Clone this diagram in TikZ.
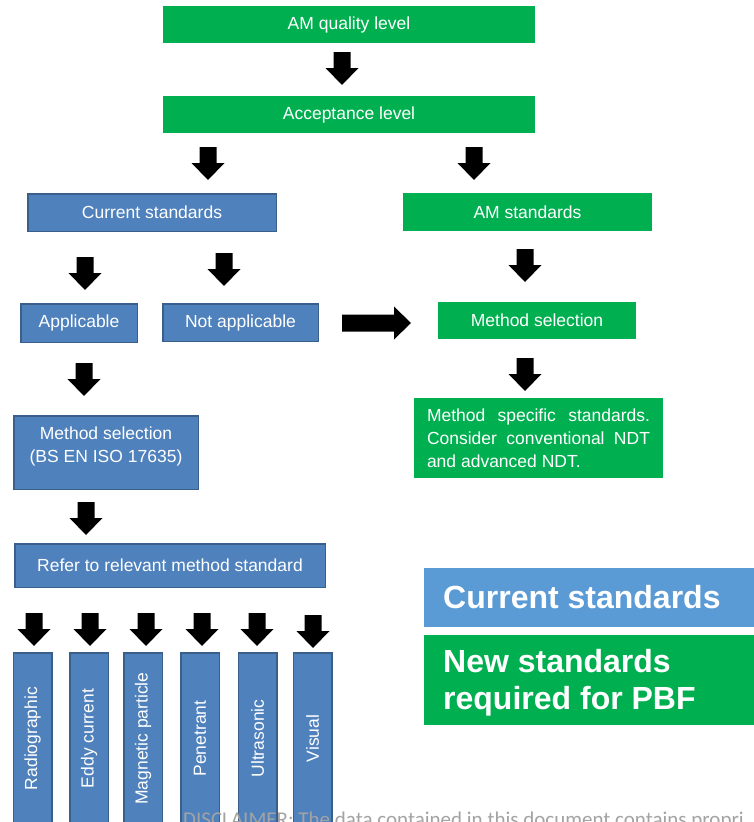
\documentclass[tikz,border=0pt]{standalone}
\usepackage{fontspec}
\setmainfont{Liberation Sans}
\newfontfamily\discfont{Carlito}
\definecolor{pgreen}{HTML}{00B050}
\definecolor{pblue}{HTML}{4F81BD}
\definecolor{pblueedge}{HTML}{3A5F8B}
\definecolor{legblue}{HTML}{5B9BD5}
\definecolor{discgray}{HTML}{A3A3A3}
\tikzset{
  greenbox/.style={fill=pgreen, draw=none, text=white, inner sep=0pt,
    font=\fontsize{17.5}{23}\selectfont, align=center},
  bluebox/.style={fill=pblue, draw=pblueedge, line width=1.5pt, text=white, inner sep=0pt,
    font=\fontsize{17.5}{23}\selectfont, align=center},
  downarrow/.pic={\fill[black] (-8.5,0) -- (8.5,0) -- (8.5,16) -- (16.5,16) -- (0,33) -- (-16.5,16) -- (-8.5,16) -- cycle;},
  rightarrow/.pic={\fill[black] (0,-8.5) -- (52,-8.5) -- (52,-16.5) -- (69,0) -- (52,16.5) -- (52,8.5) -- (0,8.5) -- cycle;},
  legtext/.style={text=white, font=\fontsize{32}{37}\selectfont\bfseries, inner sep=0pt, align=left}
}
\begin{document}
\begin{tikzpicture}[x=1pt,y=-1pt]
\useasboundingbox (0,0) rectangle (754,822);
\clip (0,0) rectangle (754,822);
\fill[white] (0,0) rectangle (754,822);
% top chain
\node[greenbox, minimum width=372pt, minimum height=37pt] (q) at (349,24.5) {AM quality level};
\node[greenbox, minimum width=372pt, minimum height=37pt] (acc) at (349,114.5) {Acceptance level};
\node[bluebox, minimum width=248.5pt, minimum height=37.5pt] (cur) at (152,212.5) {Current standards};
\node[greenbox, minimum width=249pt, minimum height=38pt] (ams) at (527.5,212) {AM standards};
\node[bluebox, minimum width=116.5pt, minimum height=38.5pt] (app) at (79,323) {Applicable};
\node[bluebox, minimum width=155.5pt, minimum height=37.5pt] (nap) at (240.5,322.5) {Not applicable};
\node[greenbox, minimum width=198pt, minimum height=37pt] (msel) at (537,320.5) {Method selection};
\node[greenbox, minimum width=249pt, minimum height=80pt, text width=223pt, align=justify] (mss) at (538.5,438)
  {Method specific standards.\linebreak Consider conventional NDT\linebreak and advanced NDT.};
\node[bluebox, minimum width=184.5pt, minimum height=73.5pt] (bsen) at (106,452.5) {};
\node[anchor=north, text=white, inner sep=0pt, font=\fontsize{17.5}{23}\selectfont, align=center] (bsentext) at ([yshift=-12pt]bsen.north) {Method selection\\(BS EN ISO 17635)};
\node[bluebox, minimum width=310.5pt, minimum height=43.5pt] (ref) at (170,565.5) {Refer to relevant method standard};
% methods
\foreach \n/\cx/\t in {m1/32.5/Radiographic, m2/89/Eddy current, m3/143/Magnetic particle, m4/200/Penetrant, m5/257.5/Ultrasonic, m6/312.5/Visual}{
  \node[bluebox, rotate=90, minimum width=171pt, minimum height=38.5pt] (\n) at (\cx,738.5) {\t};
}
% arrows
\pic (a1) at (342,52) {downarrow};
\pic (a2) at (208,147) {downarrow};
\pic (a3) at (474,147) {downarrow};
\pic (a4) at (85,257) {downarrow};
\pic (a5) at (224,253) {downarrow};
\pic (a6) at (525,249) {downarrow};
\pic (a7) at (84,363) {downarrow};
\pic (a8) at (525,358) {downarrow};
\pic (a9) at (86,502) {downarrow};
\pic (b1) at (34,613) {downarrow};
\pic (b2) at (90,613) {downarrow};
\pic (b3) at (146,613) {downarrow};
\pic (b4) at (202,613) {downarrow};
\pic (b5) at (257,613) {downarrow};
\pic (b6) at (313,615) {downarrow};
\pic (ra) at (342,323) {rightarrow};
% legend
\fill[legblue] (424,568) rectangle (754,627);
\node[legtext, anchor=base west] (leg1) at (443,608) {Current standards};
\fill[pgreen] (424,635) rectangle (754,725);
\node[legtext, anchor=base west] (leg2a) at (443,672) {New standards};
\node[legtext, anchor=base west] (leg2b) at (443,709) {required for PBF};
% disclaimer (in front, cut off by the page edges as in the reference)
\node[anchor=base west, inner sep=0pt, text=discgray, font=\discfont\fontsize{21}{25}\selectfont] (disc) at (183,826.5) {DISCLAIMER: The data contained in this document contains propri};
\end{tikzpicture}
\end{document}
